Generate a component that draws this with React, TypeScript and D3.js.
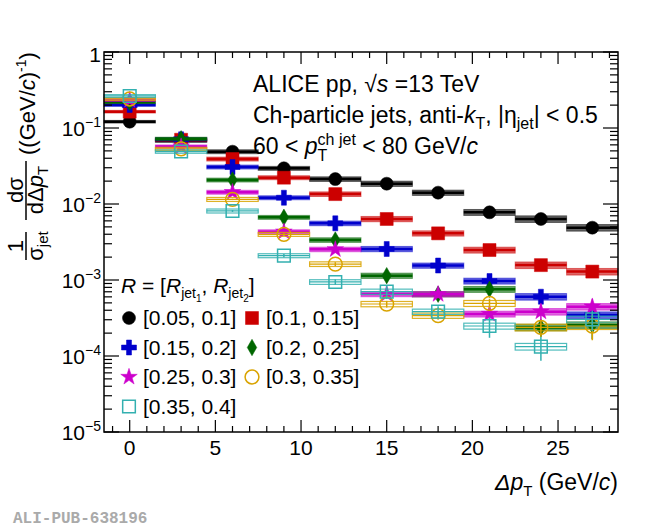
import { useEffect, useRef } from "react";
import * as d3 from "d3";

// bin centres in GeV/c, bins are 3 GeV/c wide
const binCentres = [0, 3, 6, 9, 12, 15, 18, 21, 24, 27];
const binHalfWidth = 1.5;

const r005 = [0.121, 0.068, 0.0488, 0.0295, 0.0213, 0.0185, 0.0141, 0.00777, 0.00635, 0.00488];
const r010 = [0.164, 0.07, 0.0391, 0.0222, 0.0135, 0.00635, 0.00411, 0.00248, 0.00157, 0.00129];
const r015 = [0.201, 0.071, 0.0307, 0.0121, 0.00557, 0.00256, 0.00155, 0.00097, 0.000603, 0.000346];
const r020 = [0.218, 0.072, 0.0207, 0.00668, 0.00336, 0.00114, 0.00065, 0.000754, 0.000238, 0.000256];
const r025 = [0.233, 0.057, 0.0143, 0.00432, 0.00253, 0.000654, 0.00065, 0.000357, 0.000383, 0.000446];
const r030 = [0.241, 0.053, 0.0115, 0.00399, 0.00162, 0.000483, 0.00034, 0.000493, 0.000238, 0.000248];
const r035 = [0.264, 0.049, 0.0081, 0.00209, 0.000942, 0.000702, 0.000383, 0.000248, 0.000133, 0.000304];

// relative statistical errors (vertical bars)
const stat005 = [0.005, 0.005, 0.01, 0.01, 0.015, 0.02, 0.02, 0.03, 0.05, 0.08];
const stat010 = [0.005, 0.01, 0.01, 0.015, 0.02, 0.03, 0.04, 0.06, 0.08, 0.12];
const stat015 = [0.005, 0.01, 0.015, 0.02, 0.03, 0.05, 0.07, 0.1, 0.13, 0.18];
const stat020 = [0.005, 0.01, 0.02, 0.03, 0.05, 0.08, 0.1, 0.13, 0.25, 0.35];
const stat025 = [0.005, 0.01, 0.02, 0.03, 0.05, 0.08, 0.1, 0.15, 0.25, 0.25];
const stat030 = [0.005, 0.01, 0.02, 0.04, 0.06, 0.1, 0.12, 0.15, 0.25, 0.35];
const stat035 = [0.005, 0.01, 0.03, 0.05, 0.08, 0.2, 0.18, 0.3, 0.35, 0.3];

// relative systematic uncertainty (boxes)
const sysRel = [0.04, 0.05, 0.06, 0.06, 0.07, 0.08, 0.08, 0.09, 0.1, 0.1];

const legendLabels = ["[0.05, 0.1]", "[0.1, 0.15]", "[0.15, 0.2]", "[0.2, 0.25]", "[0.25, 0.3]", "[0.3, 0.35]", "[0.35, 0.4]"];

const yDecades = [0, -1, -2, -3, -4, -5];
const xMajorTicks = [0, 5, 10, 15, 20, 25];

type Marker = "circle" | "square" | "cross" | "diamond" | "star" | "openCircle" | "openSquare";

const series: { values: number[]; stat: number[]; color: string; marker: Marker }[] = [
	{ values: r005, stat: stat005, color: "#000000", marker: "circle" },
	{ values: r010, stat: stat010, color: "#cc0000", marker: "square" },
	{ values: r015, stat: stat015, color: "#0000cc", marker: "cross" },
	{ values: r020, stat: stat020, color: "#006600", marker: "diamond" },
	{ values: r025, stat: stat025, color: "#cc00cc", marker: "star" },
	{ values: r030, stat: stat030, color: "#d9a300", marker: "openCircle" },
	{ values: r035, stat: stat035, color: "#33b0b0", marker: "openSquare" },
];

const FONT = "Liberation Sans, Arial, Helvetica, sans-serif";

type Part = { t: string; size?: number; shift?: number; italic?: boolean; stack?: boolean };

type Sel = d3.Selection<any, unknown, null, undefined>;

const rich = (parent: Sel, x: number, y: number, parts: Part[], anchor: "start" | "middle" | "end" = "start") => {
	const g = parent.append("g");
	let cursor = 0;
	let lastStart = 0;
	parts.forEach((p) => {
		const start = p.stack ? lastStart : cursor;
		const node = g
			.append("text")
			.attr("x", start)
			.attr("y", p.shift ?? 0)
			.attr("font-size", p.size ?? 23)
			.attr("font-style", p.italic ? "italic" : "normal")
			.attr("style", "white-space: pre")
			.text(p.t);
		const w = (node.node() as SVGTextElement).getComputedTextLength();
		if (p.stack) {
			cursor = Math.max(cursor, start + w);
		} else {
			lastStart = start;
			cursor = start + w;
		}
	});
	const offset = anchor === "end" ? -cursor : anchor === "middle" ? -cursor / 2 : 0;
	g.attr("transform", `translate(${x + offset},${y})`);
	return cursor;
};

const drawMarker = (parent: Sel, marker: Marker, color: string, cx: number, cy: number) => {
	const symbolOf: Record<string, [d3.SymbolType, number]> = {
		circle: [d3.symbolCircle, 133],
		square: [d3.symbolSquare, 169],
		cross: [d3.symbolCross, 125],
		diamond: [d3.symbolDiamond, 78],
		star: [d3.symbolStar, 85],
		openCircle: [d3.symbolCircle, 150],
		openSquare: [d3.symbolSquare, 160],
	};
	const [type, size] = symbolOf[marker];
	const open = marker === "openCircle" || marker === "openSquare";
	parent
		.append("path")
		.attr("transform", `translate(${cx},${cy})`)
		.attr("d", d3.symbol(type, size)() ?? "")
		.attr("fill", open ? "none" : color)
		.attr("stroke", color)
		.attr("stroke-width", open ? 1.5 : 0.5);
};

const ChargedJetChart = () => {
	const svgRef = useRef<SVGSVGElement>(null);

	useEffect(() => {
		if (!svgRef.current) {
			return;
		}
		const svg = d3.select(svgRef.current);
		svg.selectAll("*").remove();
		svg.attr("font-family", FONT);

		const left = 104;
		const right = 618;
		const top = 52;
		const bottom = 432;

		const x = d3.scaleLinear().domain([-1.5, 28.5]).range([left, right]);
		const y = d3.scaleLog().domain([1e-5, 1]).range([bottom, top]);

		const plot = svg.append("g");

		series.forEach((s) => {
			const open = s.marker === "openCircle" || s.marker === "openSquare";
			const g = plot.append("g");
			s.values.forEach((v, i) => {
				const xc = binCentres[i];
				const x0 = x(xc - binHalfWidth);
				const x1 = x(xc + binHalfWidth);
				const yHi = y(v * (1 + sysRel[i]));
				const yLo = y(v * (1 - sysRel[i]));
				g.append("rect")
					.attr("x", x0)
					.attr("y", yHi)
					.attr("width", x1 - x0)
					.attr("height", yLo - yHi)
					.attr("fill", open ? "none" : s.color)
					.attr("fill-opacity", 0.6)
					.attr("stroke", s.color)
					.attr("stroke-opacity", open ? 0.85 : 0.5)
					.attr("stroke-width", open ? 1.2 : 1);
				g.append("line")
					.attr("x1", x0)
					.attr("x2", x1)
					.attr("y1", y(v))
					.attr("y2", y(v))
					.attr("stroke", s.color)
					.attr("stroke-width", open ? 1.2 : 2.5);
				g.append("line")
					.attr("x1", x(xc))
					.attr("x2", x(xc))
					.attr("y1", y(v * (1 + s.stat[i])))
					.attr("y2", y(v * (1 - s.stat[i])))
					.attr("stroke", s.color)
					.attr("stroke-width", 1.5);
				drawMarker(g, s.marker, s.color, x(xc), y(v));
			});
		});

		// frame and ticks
		const axes = svg.append("g").attr("stroke", "#000").attr("fill", "none");
		axes.append("rect")
			.attr("x", left)
			.attr("y", top)
			.attr("width", right - left)
			.attr("height", bottom - top)
			.attr("stroke-width", 1.5);

		d3.range(-1, 29).forEach((t) => {
			const len = t % 5 === 0 ? 12 : 6;
			axes.append("line").attr("x1", x(t)).attr("x2", x(t)).attr("y1", bottom).attr("y2", bottom - len).attr("stroke-width", 1.2);
			axes.append("line").attr("x1", x(t)).attr("x2", x(t)).attr("y1", top).attr("y2", top + len).attr("stroke-width", 1.2);
		});

		yDecades.forEach((k) => {
			const base = Math.pow(10, k);
			axes.append("line").attr("x1", left).attr("x2", left + 15).attr("y1", y(base)).attr("y2", y(base)).attr("stroke-width", 1.2);
			axes.append("line").attr("x1", right).attr("x2", right - 15).attr("y1", y(base)).attr("y2", y(base)).attr("stroke-width", 1.2);
			if (k === 0) {
				return;
			}
			d3.range(2, 10).forEach((m) => {
				const v = m * base;
				axes.append("line").attr("x1", left).attr("x2", left + 8).attr("y1", y(v)).attr("y2", y(v)).attr("stroke-width", 1.2);
				axes.append("line").attr("x1", right).attr("x2", right - 8).attr("y1", y(v)).attr("y2", y(v)).attr("stroke-width", 1.2);
			});
		});

		// tick labels
		xMajorTicks.forEach((t) => {
			rich(svg, x(t), 455, [{ t: String(t), size: 21 }], "middle");
		});
		yDecades.forEach((k) => {
			const ty = y(Math.pow(10, k)) + 8;
			if (k === 0) {
				rich(svg, 101, ty + 2, [{ t: "1", size: 21 }], "end");
			} else {
				rich(svg, 101, ty, [{ t: "10", size: 21 }, { t: `\u2212${-k}`, size: 14, shift: -9 }], "end");
			}
		});

		// axis titles
		rich(svg, 618, 490, [
			{ t: "\u0394p", italic: true },
			{ t: "T", size: 15, shift: 6 },
			{ t: " (GeV/" },
			{ t: "c", italic: true },
			{ t: ")" },
		], "end");

		const yTitle = svg.append("g").attr("transform", "translate(27,260) rotate(-90)");
		yTitle.append("line").attr("x1", 0).attr("x2", 28).attr("y1", -1).attr("y2", -1).attr("stroke", "#000").attr("stroke-width", 1.5);
		rich(yTitle, 14, -4, [{ t: "1", size: 22 }], "middle");
		rich(yTitle, 14, 16, [{ t: "\u03c3", size: 22 }, { t: "jet", size: 15, shift: 5 }], "middle");
		yTitle.append("line").attr("x1", 40).attr("x2", 99).attr("y1", -1).attr("y2", -1).attr("stroke", "#000").attr("stroke-width", 1.5);
		rich(yTitle, 70, -4, [{ t: "d\u03c3", size: 22 }], "middle");
		rich(yTitle, 70, 16, [{ t: "d\u0394", size: 22 }, { t: "p", size: 22, italic: true }, { t: "T", size: 15, shift: 5 }], "middle");
		rich(yTitle, 105, 8, [
			{ t: "((GeV/", size: 22 },
			{ t: "c", size: 22, italic: true },
			{ t: ")", size: 22 },
			{ t: "-1", size: 14, shift: -9 },
			{ t: ")", size: 22 },
		]);

		// header
		rich(svg, 253, 92, [{ t: "ALICE pp, " }, { t: "\u221a" }, { t: "s", italic: true }, { t: " =13 TeV" }]);
		rich(svg, 253, 123, [
			{ t: "Ch-particle jets, anti-" },
			{ t: "k", italic: true },
			{ t: "T", size: 16, shift: 6 },
			{ t: ", |\u03b7" },
			{ t: "jet", size: 16, shift: 6 },
			{ t: "| < 0.5" },
		]);
		rich(svg, 253, 154, [
			{ t: "60 < " },
			{ t: "p", italic: true },
			{ t: "ch jet", size: 16, shift: -9 },
			{ t: "T", size: 16, shift: 7, stack: true },
			{ t: " < 80 GeV/" },
			{ t: "c", italic: true },
		]);

		// legend
		rich(svg, 121, 293, [
			{ t: "R", size: 21, italic: true },
			{ t: " = [", size: 21 },
			{ t: "R", size: 21, italic: true },
			{ t: "jet", size: 14, shift: 5 },
			{ t: "1", size: 10, shift: 9 },
			{ t: ", ", size: 21 },
			{ t: "R", size: 21, italic: true },
			{ t: "jet", size: 14, shift: 5 },
			{ t: "2", size: 10, shift: 9 },
			{ t: "]", size: 21 },
		]);
		const legend = svg.append("g");
		const rowY = [318, 347.5, 377, 406.5];
		series.forEach((s, i) => {
			const col = i % 2;
			const row = Math.floor(i / 2);
			const mx = col === 0 ? 129 : 252;
			drawMarker(legend, s.marker, s.color, mx, rowY[row]);
			rich(legend, mx + 14, rowY[row] + 7, [{ t: legendLabels[i], size: 21 }]);
		});

		// watermark
		svg.append("text")
			.attr("x", 13)
			.attr("y", 523)
			.attr("font-family", "Liberation Mono, DejaVu Sans Mono, monospace")
			.attr("font-weight", "bold")
			.attr("font-size", 16)
			.attr("fill", "#aaaaaa")
			.text("ALI-PUB-638196");
	}, []);

	return (
		<svg
			ref={svgRef}
			width={650}
			height={529}
			style={{ position: "absolute", left: 0, top: 0, background: "#fff" }}
		/>
	);
};

export default function App() {
	return <ChargedJetChart />;
}
